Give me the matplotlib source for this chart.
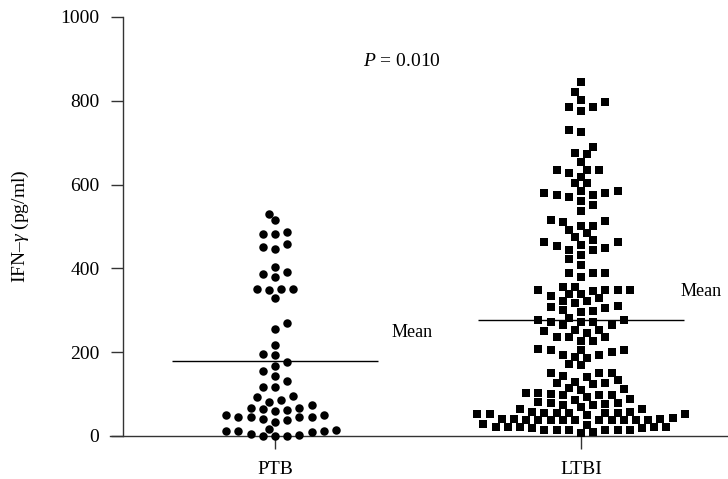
import numpy as np
import matplotlib
matplotlib.use("Agg")
import matplotlib.pyplot as plt

# IFN-gamma values, pg/ml
groups = ["PTB", "LTBI"]

ptb_values = [
    531, 515, 486, 482, 482, 458, 452, 447, 403, 391, 386, 379,
    351, 351, 351, 348, 330, 270, 255, 217, 196, 193, 177, 167,
    154, 144, 132, 117, 117, 96, 93, 86, 80, 73, 68, 68, 64, 62, 60,
    50, 50, 45, 45, 45, 45, 41, 38, 33,
    17, 14, 13, 12, 12, 9, 4, 2, 0, 0, 0,
]

ltbi_values = [
    844, 820, 801, 796, 786, 786, 775, 731, 725, 689, 675, 672, 653,
    636, 636, 635, 627, 619, 603, 603, 584, 584, 579, 579, 574, 574,
    570, 561, 551, 536, 515, 512, 510, 500, 500, 491, 484,
    474, 468, 464, 464, 456, 453, 449, 444, 444,
    432, 422, 408, 388, 388, 388, 379,
    356, 356, 348, 348, 348, 348, 347, 340, 340, 333, 329, 323, 323,
    317, 311, 309, 305, 301, 298, 297,
    282, 278, 278, 273, 273, 273, 265, 265,
    253, 253, 251, 247, 237, 237, 237, 227, 227,
    207, 205, 205, 205, 201, 193, 193, 189, 185, 173, 169,
    150, 150, 150, 143, 141, 134, 130, 126, 126, 124,
    114, 111, 110, 103, 102, 100, 98, 98, 98, 94, 88, 86,
    80, 78, 78, 76, 74, 74, 70,
    64, 64, 58, 58, 56, 56, 54, 54, 54, 52, 52, 52, 50,
    42, 41, 40, 40, 39, 39, 38, 38, 38, 38, 38, 38, 37, 37,
    29, 26, 22, 22, 22, 22, 21, 18, 18, 14, 14, 14, 14, 14, 14, 10, 6,
]

p_text = "$P$ = 0.010"

plt.rcParams["font.family"] = "Liberation Serif"
plt.rcParams["mathtext.fontset"] = "custom"
plt.rcParams["mathtext.rm"] = "Liberation Serif"
plt.rcParams["mathtext.it"] = "Liberation Serif:italic"

W, H = 728, 479
INK = "#333333"


def swarm_x(ax, xc, values, col_px=12.2, min_px=9.0):
    # greedy beeswarm in pixel space, half-column steps, lowest values first
    trans = ax.transData
    pts = trans.transform(np.column_stack([np.full(len(values), xc), values]))
    ys = pts[:, 1]
    dx_out = np.zeros(len(values))
    placed = []
    flip = 1
    for i in np.argsort(values, kind="stable"):
        y = ys[i]
        k = 0
        spot = None
        while spot is None:
            step = k * col_px / 2
            cands = [0.0] if k == 0 else [flip * step, -flip * step]
            for dx in cands:
                if all((dx - px) ** 2 + (y - py) ** 2 >= min_px ** 2 for px, py in placed):
                    spot = dx
                    break
            k += 1
        placed.append((spot, y))
        dx_out[i] = spot
        if spot != 0:
            flip = -flip if spot * flip > 0 else flip
    xy = trans.inverted().transform(np.column_stack([pts[:, 0] + dx_out, ys]))
    return xy[:, 0]


fig = plt.figure(figsize=(W / 100, H / 100), dpi=100)
ax = fig.add_axes([110 / W, 43 / H, 618 / W, 419 / H])

ax.set_xlim(1 - 165 / 306, 2 + 147 / 306)
ax.set_ylim(0, 1000)

for side in ["top", "right"]:
    ax.spines[side].set_visible(False)
for side in ["left", "bottom"]:
    ax.spines[side].set_color(INK)
    ax.spines[side].set_linewidth(1.0)
ax.spines["left"].set_position(("data", 1 - 152 / 306))

ax.set_xticks([1, 2], groups)
ax.set_yticks(range(0, 1001, 200))
ax.tick_params(axis="both", direction="out", length=9, width=1.0, color=INK,
               labelsize=14, labelcolor="black")
ax.tick_params(axis="y", pad=8)
ax.tick_params(axis="x", pad=9)

ax.set_ylabel("IFN–$\\gamma$ (pg/ml)", fontsize=14)
ax.yaxis.set_label_coords(-0.128, 0.5)

markers = ["o", "s"]
sizes = [6.1, 5.8]
for pos, (vals, mk, ms) in enumerate(zip([ptb_values, ltbi_values], markers, sizes), start=1):
    xs = swarm_x(ax, pos, vals)
    ax.scatter(xs, vals, marker=mk, s=ms ** 2, c="black", linewidths=0,
               clip_on=False, zorder=3)
    m = np.mean(vals)
    ax.hlines(m, pos - 0.335, pos + 0.335, color="black", lw=1.0, zorder=2)

ax.text(1.38, np.mean(ptb_values) + 68, "Mean", fontsize=13, va="center", ha="left")
ax.text(2.325, np.mean(ltbi_values) + 70, "Mean", fontsize=13, va="center", ha="left")
ax.text(1.415, 893, p_text, fontsize=14, va="center", ha="center")

fig.savefig("out.png", dpi=100)
